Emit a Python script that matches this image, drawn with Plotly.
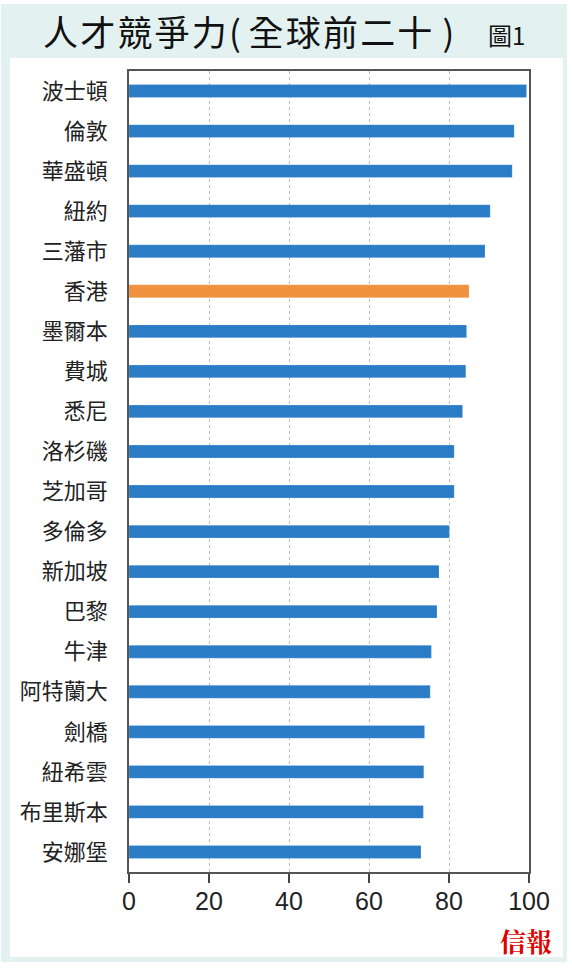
import plotly.graph_objects as go

# 人才競爭力 top 20 cities
cities = ['波士頓', '倫敦', '華盛頓', '紐約', '三藩市', '香港', '墨爾本', '費城',
          '悉尼', '洛杉磯', '芝加哥', '多倫多', '新加坡', '巴黎', '牛津',
          '阿特蘭大', '劍橋', '紐希雲', '布里斯本', '安娜堡']
scores = [99.4, 96.3, 95.8, 90.3, 89.0, 85.0, 84.4, 84.2, 83.4, 81.3,
          81.3, 80.1, 77.5, 77.0, 75.6, 75.3, 73.9, 73.7, 73.6, 73.0]
highlight = '香港'
x_ticks = [0, 20, 40, 60, 80, 100]
title = '人才競爭力(全球前二十)'

BLUE = '#2b7cc6'
ORANGE = '#f0913f'
W, H = 572, 969
L, R, T, B = 129, 43, 71, 97


def px_x(p):
    return (p - L) / (W - L - R)


def px_y(p):
    return (H - B - p) / (H - T - B)


def spaced(s):
    # mimic the loose letter spacing of the printed title
    out = '\u200a'.join(s)
    return out.replace('(\u200a', '( ').replace('\u200a)', ' \u200a)')


colors = [ORANGE if c == highlight else BLUE for c in cities]

fig = go.Figure(go.Bar(
    x=scores, y=cities, orientation='h',
    marker=dict(color=colors, line=dict(color='rgba(255,255,255,0.4)', width=0.5)),
    width=0.32,
))

# light teal card with white inner panel
fig.add_shape(type='rect', xref='paper', yref='paper', layer='below',
              x0=px_x(1), x1=px_x(567), y0=px_y(962), y1=px_y(4),
              fillcolor='#e3f1f1', line=dict(width=0))
fig.add_shape(type='rect', xref='paper', yref='paper', layer='below',
              x0=px_x(10), x1=px_x(563), y0=px_y(957), y1=px_y(58),
              fillcolor='white', line=dict(width=0))

fig.add_annotation(text=spaced(title), xref='paper', yref='paper',
                   x=px_x(41), y=px_y(30), xanchor='left', yanchor='middle',
                   showarrow=False,
                   font=dict(family='Noto Sans CJK TC', size=35, color='#111'))
fig.add_annotation(text='圖1', xref='paper', yref='paper',
                   x=px_x(486), y=px_y(35), xanchor='left', yanchor='middle',
                   showarrow=False,
                   font=dict(family='Noto Sans CJK TC', size=24, color='#111'))
fig.add_annotation(text='<b>信報</b>', xref='paper', yref='paper',
                   x=px_x(554), y=px_y(940), xanchor='right', yanchor='middle',
                   showarrow=False,
                   font=dict(family='Noto Serif CJK TC, Noto Sans CJK TC', size=26,
                             color='#e00000'))

fig.update_xaxes(range=[0, 100], tickvals=x_ticks, ticks='outside', ticklen=9,
                 tickcolor='#444', tickwidth=1.5, ticklabelstandoff=-3,
                 showline=True, linecolor='#555', linewidth=1.5, mirror=True,
                 showgrid=True, gridcolor='#bbbbbb', griddash='dot', gridwidth=1,
                 zeroline=False,
                 tickfont=dict(family='Liberation Sans Narrow, Liberation Sans',
                               size=25, color='#222'))
fig.update_yaxes(categoryorder='array', categoryarray=cities[::-1],
                 showline=True, linecolor='#555', linewidth=1.5, mirror=True,
                 showgrid=False, ticklabelstandoff=15,
                 tickfont=dict(family='Noto Sans CJK TC', size=22, color='#222'))

fig.update_layout(width=W, height=H, margin=dict(l=L, r=R, t=T, b=B),
                  paper_bgcolor='white', plot_bgcolor='white',
                  showlegend=False, bargap=0.68)

fig.write_html('out.html', config={'displayModeBar': False},
               post_script="document.body.style.margin='0';")
